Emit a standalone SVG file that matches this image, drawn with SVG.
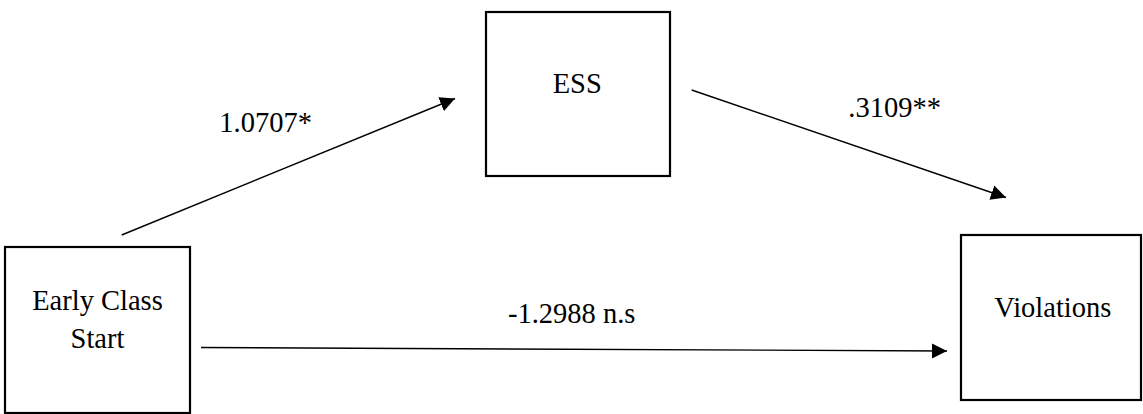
<svg xmlns="http://www.w3.org/2000/svg" width="1143" height="414" viewBox="0 0 1143 414">
<style>
.box{fill:#fff;stroke:#000;stroke-width:2.2}
.lbl{font-family:"Liberation Serif","Times New Roman",serif;font-size:28.5px;fill:#000}
.conn{stroke:#000;stroke-width:1.4;fill:none}
</style>
<defs>
<marker id="arr" markerUnits="userSpaceOnUse" markerWidth="16" markerHeight="16" viewBox="0 0 16 16" refX="15" refY="8" orient="auto">
<polygon points="0,0.5 15,8 0,15.5" fill="#000"/>
</marker>
</defs>
<rect width="1143" height="414" fill="#fff"/>
<g id="connectors">
<line class="conn" x1="121.7" y1="235" x2="455" y2="98.5" marker-end="url(#arr)"/>
<line class="conn" x1="691.7" y1="90" x2="1006" y2="197.5" marker-end="url(#arr)"/>
<line class="conn" x1="201" y1="347.5" x2="947" y2="351" marker-end="url(#arr)"/>
<text class="lbl" x="219.3" y="131.7">1.0707*</text>
<text class="lbl" x="848.3" y="116.7">.3109**</text>
<text class="lbl" x="508" y="323">-1.2988 n.s</text>
</g>
<g id="early">
<rect class="box" x="5" y="247" width="185" height="166"/>
<text class="lbl" x="97.5" y="310" text-anchor="middle">Early Class</text>
<text class="lbl" x="97.5" y="348.3" text-anchor="middle">Start</text>
</g>
<g id="ess">
<rect class="box" x="486" y="12" width="184" height="164"/>
<text class="lbl" x="577.2" y="93.3" text-anchor="middle">ESS</text>
</g>
<g id="violations">
<rect class="box" x="961" y="235" width="180" height="165"/>
<text class="lbl" x="994.3" y="316.7">Violations</text>
</g>
</svg>
